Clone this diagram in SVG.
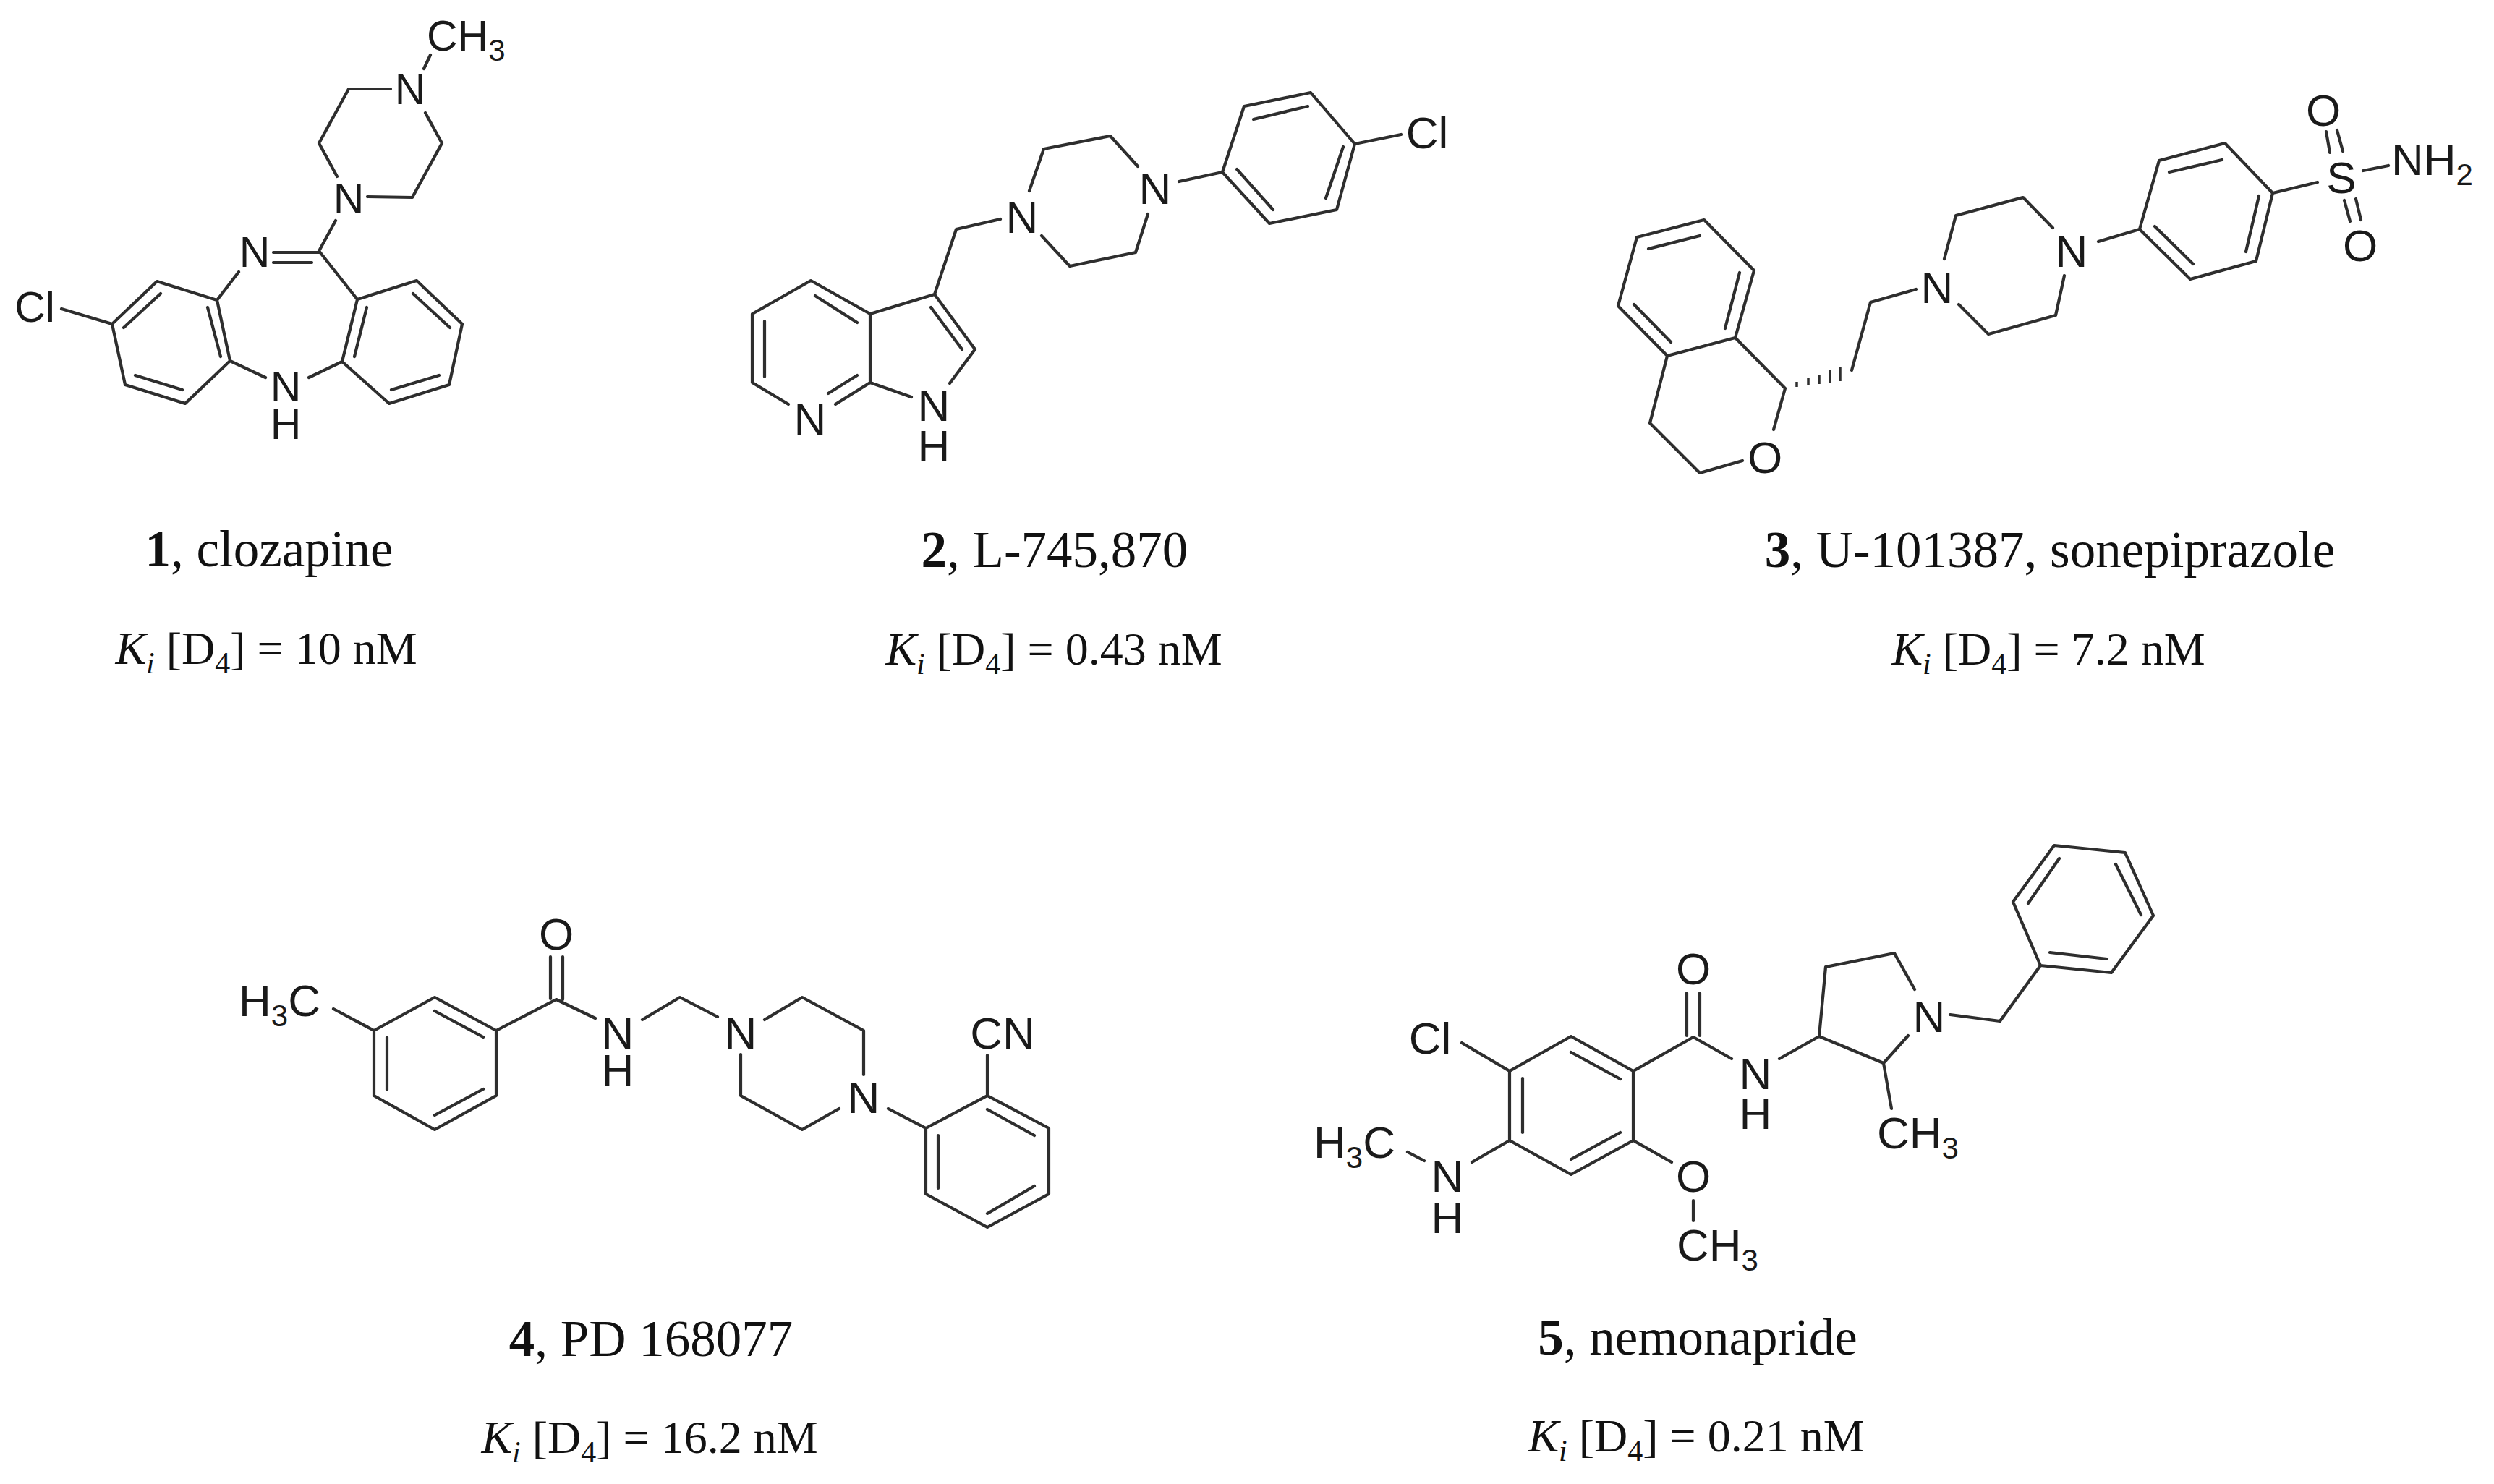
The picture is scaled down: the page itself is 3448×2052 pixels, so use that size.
<svg xmlns="http://www.w3.org/2000/svg" width="3448" height="2052" viewBox="0 0 3448 2052">
<style>
.b{fill:none;stroke:#2e2e2e;stroke-width:4.2;stroke-linejoin:round;stroke-linecap:round}
.h{fill:none;stroke:#2e2e2e;stroke-width:3.5}
.a{font-family:"Liberation Sans",Arial,sans-serif;font-size:62px;fill:#1a1a1a;text-anchor:middle}
#mol-1 .a{font-size:59px}
.s{text-anchor:start}
.n{font-family:"Liberation Serif","Times New Roman",serif;font-size:71px;fill:#111;text-anchor:middle}
.k{font-family:"Liberation Serif","Times New Roman",serif;font-size:64px;fill:#111;text-anchor:middle}
.u{font-size:42px}
.a .v{font-size:42px}
</style>
<rect width="3448" height="2052" fill="#fff"/>
<g id="mol-1">
<path class="b" d="M595 76L586 95M540 123H482L441 198L466 244M508 272L570 273L611 198L588 156M464 305L441 347L494 414L576 388L639 448L621 532L538 558L473 500L494 414M441 349H378M431 363H378M330 376L300 415L217 389L155 448L173 532L256 558L318 499L300 415M222 406L171 453M187 519L252 539M287 425L305 493M85 427L155 448M318 499L367 522M427 522L473 500M571 406L622 453M541 539L607 519M507 425L490 493"/>
<text class="a s" x="590" y="70">CH<tspan class="v" dy="14">3</tspan></text>
<text class="a" x="567" y="144">N</text>
<text class="a" x="482" y="295">N</text>
<text class="a" x="352" y="369">N</text>
<text class="a" x="48" y="445">Cl</text>
<text class="a"><tspan x="395" y="555">N</tspan><tspan x="395" y="607">H</tspan></text>
<text class="n" x="372" y="783"><tspan font-weight="bold">1</tspan>, clozapine</text>
<text class="k" x="368" y="918"><tspan font-style="italic">K</tspan><tspan class="u" font-style="italic" dy="13">i</tspan><tspan dy="-13"> [D</tspan><tspan class="u" dy="13">4</tspan><tspan dy="-13">] = 10 nM</tspan></text>
</g>
<g id="mol-2">
<path class="b" d="M1873 199L1812 128L1720 147L1690 238L1755 309L1848 290L1873 199M1733 165L1808 147M1710 234L1760 290M1857 203L1833 274M1937 186L1873 199M1630 251L1690 238M1573 230L1535 188L1443 206L1423 264M1440 326L1479 368L1570 349L1587 296M1383 303L1322 317L1292 407L1203 434V529L1260 549M1313 530L1348 483L1292 407M1287 425L1330 483M1203 434L1121 388L1040 434V529L1090 559M1155 559L1203 529M1127 409L1185 446M1057 444V521M1145 544L1185 519"/>
<text class="a" x="1973" y="205">Cl</text>
<text class="a" x="1597" y="282">N</text>
<text class="a" x="1413" y="322">N</text>
<text class="a"><tspan x="1291" y="582">N</tspan><tspan x="1291" y="638">H</tspan></text>
<text class="a" x="1120" y="601">N</text>
<text class="n" x="1458" y="784"><tspan font-weight="bold">2</tspan>, L-745,870</text>
<text class="k" x="1457" y="919"><tspan font-style="italic">K</tspan><tspan class="u" font-style="italic" dy="13">i</tspan><tspan dy="-13"> [D</tspan><tspan class="u" dy="13">4</tspan><tspan dy="-13">] = 0.43 nM</tspan></text>
</g>
<g id="mol-3">
<path class="b" d="M3216 182L3221 211M3231 180L3239 209M3241 277L3249 306M3257 275L3264 304M3267 236L3302 229M3142 267L3076 198L2985 222L2958 317L3028 386L3119 361L3142 267L3204 252M2999 238L3072 221M2979 313L3032 365M3123 271L3105 348M2901 334L2958 317M2838 315L2797 273L2704 298L2688 358M2708 421L2749 462L2842 436L2854 381M2649 400L2586 418L2560 512M2468 537L2399 467L2305 492L2281 585L2350 654L2409 637M2468 537L2452 594M2399 467L2425 374L2356 304L2263 328L2237 423L2305 492M2279 344L2350 326M2259 421L2310 473M2405 377L2385 454"/>
<path class="h" d="M2484 528V535M2500 523V533M2515 518V531M2530 512V529M2544 507V527"/>
<text class="a" x="3212" y="174">O</text>
<text class="a" x="3263" y="361">O</text>
<text class="a" x="3237" y="267">S</text>
<text class="a s" x="3306" y="242">NH<tspan class="v" dy="14">2</tspan></text>
<text class="a" x="2864" y="369">N</text>
<text class="a" x="2678" y="419">N</text>
<text class="a" x="2440" y="654">O</text>
<text class="n" x="2834" y="784"><tspan font-weight="bold">3</tspan>, U-101387, sonepiprazole</text>
<text class="k" x="2832" y="919"><tspan font-style="italic">K</tspan><tspan class="u" font-style="italic" dy="13">i</tspan><tspan dy="-13"> [D</tspan><tspan class="u" dy="13">4</tspan><tspan dy="-13">] = 7.2 nM</tspan></text>
</g>
<g id="mol-4">
<path class="b" d="M761 1323V1381M778 1323V1382M461 1395L517 1425L601 1379L686 1425V1515L601 1562L517 1515V1425M601 1398L668 1434M535 1434V1507M601 1542L668 1506M686 1425L769 1382L823 1408M888 1410L940 1379L992 1406M1057 1410L1109 1379L1194 1425V1486M1024 1458V1515L1109 1562L1160 1533M1228 1533L1280 1560L1365 1515L1450 1560V1651L1365 1697L1280 1651V1560M1365 1534L1430 1570M1297 1570V1643M1365 1678L1430 1640M1365 1459V1515"/>
<text class="a" x="769" y="1313">O</text>
<text class="a s" x="330" y="1405">H<tspan class="v" dy="14">3</tspan><tspan dy="-14">C</tspan></text>
<text class="a"><tspan x="854" y="1450">N</tspan><tspan x="854" y="1501">H</tspan></text>
<text class="a" x="1024" y="1450">N</text>
<text class="a" x="1194" y="1539">N</text>
<text class="a" x="1386" y="1450">CN</text>
<text class="n" x="900" y="1875"><tspan font-weight="bold">4</tspan>, PD 168077</text>
<text class="k" x="898" y="2009"><tspan font-style="italic">K</tspan><tspan class="u" font-style="italic" dy="13">i</tspan><tspan dy="-13"> [D</tspan><tspan class="u" dy="13">4</tspan><tspan dy="-13">] = 16.2 nM</tspan></text>
</g>
<g id="mol-5">
<path class="b" d="M2332 1373V1432M2350 1373V1432M2021 1442L2087 1481L2172 1433L2258 1481V1577L2172 1624L2087 1577V1481M2172 1455L2240 1492M2105 1491V1566M2172 1603L2240 1566M2258 1481L2341 1434L2394 1464M2460 1464L2515 1433L2524 1337L2619 1318L2647 1368M2638 1432L2604 1470L2515 1433M2604 1470L2615 1533M2696 1403L2765 1412L2821 1335L2919 1345L2977 1266L2938 1179L2840 1169L2783 1247L2821 1335M2834 1317L2913 1326M2960 1265L2925 1195M2847 1187L2804 1249M1946 1593L1969 1605M2035 1607L2087 1577M2258 1577L2311 1607M2341 1660V1688"/>
<text class="a" x="2341" y="1361">O</text>
<text class="a" x="1977" y="1457">Cl</text>
<text class="a"><tspan x="2427" y="1506">N</tspan><tspan x="2427" y="1561">H</tspan></text>
<text class="a" x="2667" y="1427">N</text>
<text class="a s" x="2595" y="1588">CH<tspan class="v" dy="14">3</tspan></text>
<text class="a s" x="1816" y="1601">H<tspan class="v" dy="14">3</tspan><tspan dy="-14">C</tspan></text>
<text class="a"><tspan x="2001" y="1648">N</tspan><tspan x="2001" y="1705">H</tspan></text>
<text class="a" x="2341" y="1648">O</text>
<text class="a s" x="2318" y="1743">CH<tspan class="v" dy="14">3</tspan></text>
<text class="n" x="2347" y="1873"><tspan font-weight="bold">5</tspan>, nemonapride</text>
<text class="k" x="2345" y="2007"><tspan font-style="italic">K</tspan><tspan class="u" font-style="italic" dy="13">i</tspan><tspan dy="-13"> [D</tspan><tspan class="u" dy="13">4</tspan><tspan dy="-13">] = 0.21 nM</tspan></text>
</g>
</svg>
